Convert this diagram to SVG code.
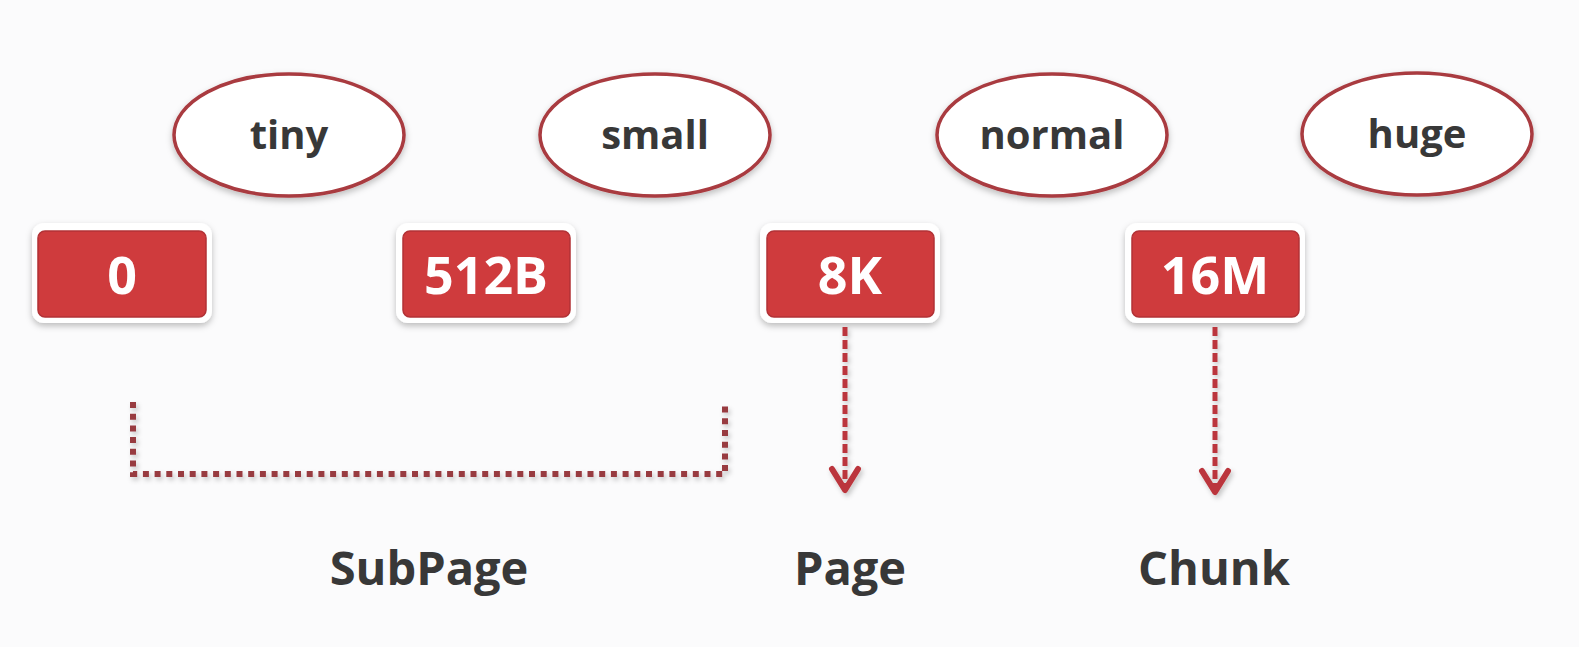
<svg xmlns="http://www.w3.org/2000/svg" width="1579" height="647" viewBox="0 0 1579 647">
<defs>
<filter id="sh" x="-20%" y="-20%" width="140%" height="150%">
<feDropShadow dx="0" dy="3" stdDeviation="3" flood-color="#000" flood-opacity="0.25"/>
</filter>
<filter id="shu" filterUnits="userSpaceOnUse" x="0" y="0" width="1579" height="647">
<feDropShadow dx="2" dy="3" stdDeviation="2.5" flood-color="#000" flood-opacity="0.22"/>
</filter>
<marker id="arr" viewBox="0 0 30 34" refX="25" refY="17" markerWidth="30" markerHeight="34" markerUnits="userSpaceOnUse" orient="auto">
<path d="M4 4 L25 17 L4 30" fill="none" stroke="#bb363c" stroke-width="6" stroke-dasharray="none" stroke-linejoin="round" stroke-linecap="round"/>
</marker>
</defs>
<style>
.ell{fill:#fff;stroke:#a93a3f;stroke-width:3.5}
.box-o{fill:#fff}
.box-i{fill:#cf3b3d;stroke:#b23236;stroke-width:1.5}
.lab{font-family:"Open Sans","Noto Sans",sans-serif;font-weight:700;fill:#383838;text-anchor:middle}
.num{font-family:"Open Sans","Noto Sans",sans-serif;font-weight:700;fill:#fff;text-anchor:middle;font-size:52px}
.con{fill:none;stroke:#bb363c;stroke-width:5}
</style>
<rect width="1579" height="647" fill="#fbfbfc"/>
<g id="tiny"><ellipse class="ell" cx="289" cy="135" rx="115" ry="61" filter="url(#sh)"/><text class="lab" x="289" y="149" font-size="40">tiny</text></g>
<g id="small"><ellipse class="ell" cx="655" cy="135" rx="115" ry="61" filter="url(#sh)"/><text class="lab" x="655" y="149" font-size="40">small</text></g>
<g id="normal"><ellipse class="ell" cx="1052" cy="135" rx="115" ry="61" filter="url(#sh)"/><text class="lab" x="1052" y="149" font-size="40">normal</text></g>
<g id="huge"><ellipse class="ell" cx="1417" cy="134" rx="115" ry="61" filter="url(#sh)"/><text class="lab" x="1417" y="148" font-size="40">huge</text></g>
<g id="b0"><rect class="box-o" x="32" y="223" width="180" height="100" rx="12" filter="url(#sh)"/><rect class="box-i" x="38" y="231" width="168" height="86" rx="7"/><text class="num" x="122" y="294">0</text></g>
<g id="b512"><rect class="box-o" x="396" y="223" width="180" height="100" rx="12" filter="url(#sh)"/><rect class="box-i" x="403" y="231" width="167" height="86" rx="7"/><text class="num" x="486" y="294">512B</text></g>
<g id="b8k"><rect class="box-o" x="760" y="223" width="180" height="100" rx="12" filter="url(#sh)"/><rect class="box-i" x="767" y="231" width="167" height="86" rx="7"/><text class="num" x="850" y="294">8K</text></g>
<g id="b16m"><rect class="box-o" x="1125" y="223" width="180" height="100" rx="12" filter="url(#sh)"/><rect class="box-i" x="1132" y="231" width="167" height="86" rx="7"/><text class="num" x="1215" y="294">16M</text></g>
<g id="connectors" filter="url(#shu)">
<path d="M133 402 V474 H725 V402" fill="none" stroke="#983a40" stroke-width="6" stroke-dasharray="6 5.7"/>
<path class="con" d="M845 327 V490" stroke-dasharray="9 4" marker-end="url(#arr)"/>
<path class="con" d="M1215 327 V492" stroke-dasharray="9 4" marker-end="url(#arr)"/>
</g>
<g id="labels">
<text class="lab" x="429" y="585" font-size="47">SubPage</text>
<text class="lab" x="850" y="585" font-size="47">Page</text>
<text class="lab" x="1214" y="585" font-size="47">Chunk</text>
</g>
</svg>
